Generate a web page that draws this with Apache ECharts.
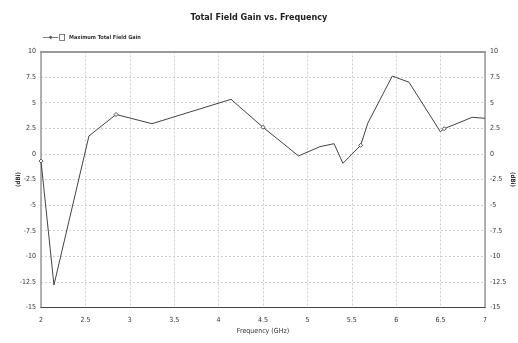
<!DOCTYPE html>
<html>
<head>
<meta charset="utf-8">
<script src="https://cdn.jsdelivr.net/npm/echarts@6/dist/echarts.min.js"></script>
<style>
  html, body { margin: 0; padding: 0; background: #fff; }
  #chart { width: 518px; height: 343px; }
</style>
</head>
<body>
<div id="chart"></div>
<script>
// Frequency sweep (GHz) and maximum total field gain (dBi)
const freq = [2.0, 2.146, 2.54, 2.845, 3.25, 4.14, 4.5, 4.9, 5.14, 5.30, 5.40, 5.60, 5.68, 5.956, 6.144, 6.497, 6.54, 6.855, 7.0];
const gain = [-0.7, -12.8, 1.75, 3.85, 2.95, 5.33, 2.6, -0.2, 0.7, 1.0, -0.92, 0.84, 3.0, 7.6, 7.0, 2.17, 2.46, 3.57, 3.48];
// Sample indices that carry a marker symbol
const markerIdx = [0, 3, 6, 11, 16];

const seriesName = 'Maximum Total Field Gain';
const FONT = '"DejaVu Sans Condensed", "Liberation Sans Narrow", "Liberation Sans", sans-serif';

const points = freq.map((f, i) => ({
  value: [f, gain[i]],
  symbol: markerIdx.includes(i) ? 'diamond' : 'none'
}));

const gridLine = { show: true, lineStyle: { color: '#cfcfcf', type: [2, 2], width: 1 } };
const tickLabel = { color: '#333', fontSize: 7, fontFamily: FONT, margin: 5 };
const unitName = { fontSize: 6, fontWeight: 'bold', color: '#333', fontFamily: FONT };

const chart = echarts.init(document.getElementById('chart'), null, { renderer: 'canvas' });
chart.setOption({
  animation: false,
  backgroundColor: '#fff',
  title: {
    text: 'Total Field Gain vs. Frequency',
    left: 'center',
    top: 8,
    textStyle: { fontSize: 9, fontWeight: 'bold', color: '#222', fontFamily: FONT }
  },
  legend: {
    left: 38,
    top: 29,
    itemWidth: 22,
    itemHeight: 7,
    itemGap: 4,
    icon: 'path://M0 3.6H16V4.4H0Z M8 2L10 4L8 6L6 4Z M17 0.5H23V7.5H17Z M17.8 1.3V6.7H22.2V1.3Z',
    textStyle: { fontSize: 5.5, fontWeight: 'bold', color: '#333', fontFamily: FONT, padding: [0, 0, 0, -1] },
    itemStyle: { color: '#555', borderWidth: 0 },
    data: [seriesName]
  },
  grid: { left: 41, right: 33, top: 51.5, bottom: 35.5, containLabel: false, outerBoundsMode: 'none' },
  xAxis: [{
    type: 'value',
    min: 2, max: 7, interval: 0.5,
    name: 'Frequency (GHz)',
    nameLocation: 'middle',
    nameGap: 20,
    nameMoveOverlap: false,
    nameTextStyle: { fontSize: 7, color: '#333', fontFamily: FONT },
    axisLine: { show: true, onZero: false, lineStyle: { color: '#444', width: 1.2 } },
    axisTick: { show: false },
    axisLabel: Object.assign({}, tickLabel, { margin: 9 }),
    splitLine: gridLine
  }, {
    type: 'value',
    position: 'top',
    min: 2, max: 7, interval: 0.5,
    axisLine: { show: true, onZero: false, lineStyle: { color: '#999', width: 2 } },
    axisTick: { show: false },
    axisLabel: { show: false },
    splitLine: { show: false }
  }],
  yAxis: [{
    type: 'value',
    position: 'left',
    min: -15, max: 10, interval: 2.5,
    name: '(dBi)',
    nameLocation: 'middle',
    nameGap: 20,
    nameRotate: 90,
    nameMoveOverlap: false,
    nameTextStyle: unitName,
    axisLine: { show: true, onZero: false, lineStyle: { color: '#999', width: 1.5 } },
    axisTick: { show: false },
    axisLabel: tickLabel,
    splitLine: gridLine
  }, {
    type: 'value',
    position: 'right',
    min: -15, max: 10, interval: 2.5,
    name: '(dBi)',
    nameLocation: 'middle',
    nameGap: 25,
    nameRotate: -90,
    nameMoveOverlap: false,
    nameTextStyle: unitName,
    axisLine: { show: true, onZero: false, lineStyle: { color: '#999', width: 1.5 } },
    axisTick: { show: false },
    axisLabel: Object.assign({}, tickLabel, { margin: 5 }),
    splitLine: { show: false }
  }],
  series: [{
    name: seriesName,
    type: 'line',
    xAxisIndex: 0,
    yAxisIndex: 0,
    data: points,
    showSymbol: true,
    symbolSize: 4,
    itemStyle: { color: '#fff', borderColor: '#555', borderWidth: 1 },
    lineStyle: { color: '#444', width: 1 },
    emphasis: { disabled: true }
  }]
});
</script>
</body>
</html>
